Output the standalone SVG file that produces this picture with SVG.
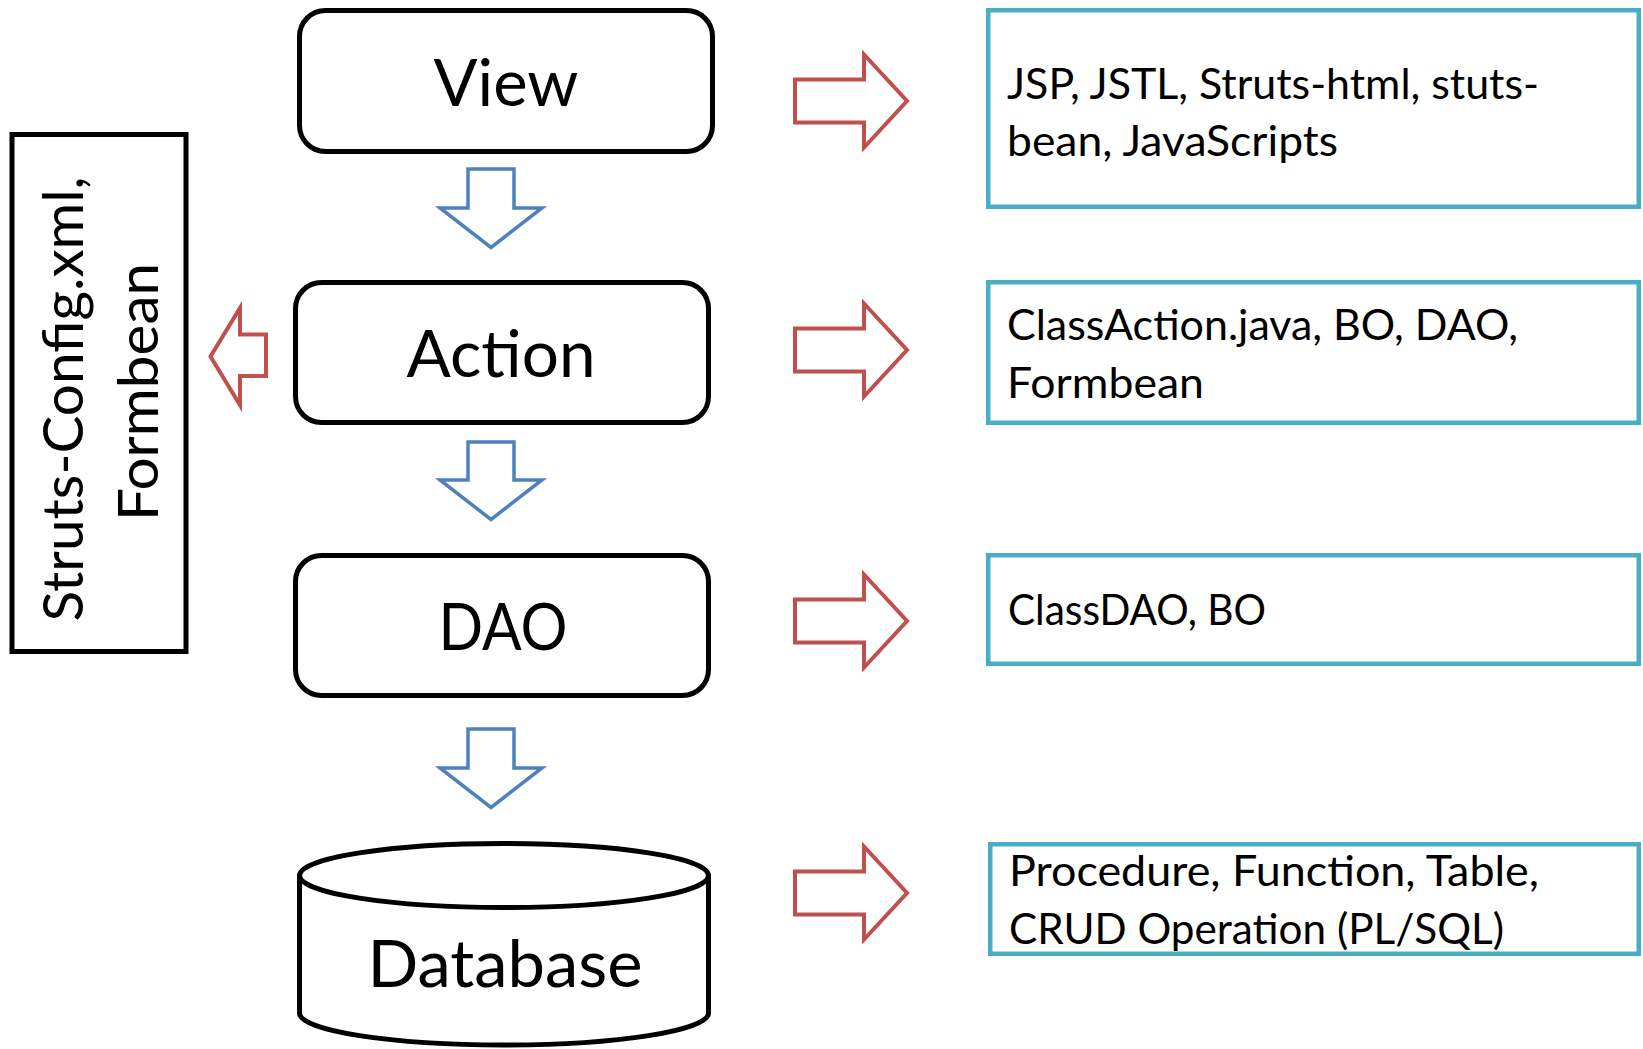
<svg xmlns="http://www.w3.org/2000/svg" width="1643" height="1049" viewBox="0 0 1643 1049">
<style>
.node{fill:#fff;stroke:#000;stroke-width:5}
.info{fill:#fff;stroke:#4BACC6;stroke-width:4.5}
.big{font-family:Lato,"Open Sans","Liberation Sans",sans-serif;font-size:65px;fill:#000;text-anchor:middle}
.side{font-family:Lato,"Open Sans","Liberation Sans",sans-serif;font-size:56px;fill:#000;text-anchor:middle}
.small{font-family:Lato,"Open Sans","Liberation Sans",sans-serif;font-size:42px;fill:#000}
.down{fill:#fff;stroke:#4F81BD;stroke-width:3.5;stroke-linejoin:miter}
.red{fill:#fff;stroke:#C0504D;stroke-width:4;stroke-linejoin:miter}
</style>
<rect width="1643" height="1049" fill="#fff"/>
<g id="view">
<rect class="node" x="299.5" y="10.5" width="413" height="141" rx="26"/>
<text class="big" x="506" y="106" textLength="145" lengthAdjust="spacingAndGlyphs">View</text>
</g>
<g id="action">
<rect class="node" x="295.5" y="282.5" width="413" height="140" rx="26"/>
<text class="big" x="501" y="377" textLength="189" lengthAdjust="spacingAndGlyphs">Action</text>
</g>
<g id="dao">
<rect class="node" x="295.5" y="555.5" width="413" height="140" rx="26"/>
<text class="big" x="503" y="650" textLength="129" lengthAdjust="spacingAndGlyphs">DAO</text>
</g>
<g id="database">
<path class="node" d="M299.5,875.5 V1013 A204.5,32 0 0 0 708.5,1013 V875.5"/>
<ellipse class="node" cx="504" cy="875.5" rx="204.5" ry="32"/>
<text class="big" x="505" y="987" textLength="275" lengthAdjust="spacingAndGlyphs">Database</text>
</g>
<g id="struts-config">
<rect class="node" x="12" y="134.5" width="174" height="517"/>
<text class="side" transform="translate(83,399) rotate(-90)" textLength="445" lengthAdjust="spacingAndGlyphs">Struts-Config.xml,</text>
<text class="side" transform="translate(158,392) rotate(-90)" textLength="258" lengthAdjust="spacingAndGlyphs">Formbean</text>
</g>
<g id="view-tech">
<rect class="info" x="988.25" y="10.25" width="650.5" height="196.5"/>
<text class="small" x="1007" y="99" textLength="532" lengthAdjust="spacingAndGlyphs">JSP, JSTL, Struts-html, stuts-</text>
<text class="small" x="1007" y="156" textLength="331" lengthAdjust="spacingAndGlyphs">bean, JavaScripts</text>
</g>
<g id="action-tech">
<rect class="info" x="988.25" y="282.25" width="650.5" height="140.5"/>
<text class="small" x="1007" y="340" textLength="511" lengthAdjust="spacingAndGlyphs">ClassAction.java, BO, DAO,</text>
<text class="small" x="1007" y="398" textLength="197" lengthAdjust="spacingAndGlyphs">Formbean</text>
</g>
<g id="dao-tech">
<rect class="info" x="988.25" y="555.25" width="650.5" height="108.5"/>
<text class="small" x="1008" y="625" textLength="258" lengthAdjust="spacingAndGlyphs">ClassDAO, BO</text>
</g>
<g id="db-tech">
<rect class="info" x="990.25" y="844.25" width="648.5" height="109.5"/>
<text class="small" x="1009" y="886" textLength="530" lengthAdjust="spacingAndGlyphs">Procedure, Function, Table,</text>
<text class="small" x="1009" y="944" textLength="495" lengthAdjust="spacingAndGlyphs">CRUD Operation (PL/SQL)</text>
</g>
<g id="connectors">
<path class="down" d="M468,169 H514 V208 H542 L491,247.5 L440,208 H468 Z"/>
<path class="down" d="M468,442 H514 V480 H542 L491,519.5 L440,480 H468 Z"/>
<path class="down" d="M468,729 H514 V768 H542 L491,807.5 L440,768 H468 Z"/>
<path class="red" d="M266,334.5 V376 H240 V405 L210.5,356.5 L240,308 V334.5 Z"/>
<path class="red" d="M795,79.5 H864 V54.5 L907,101 L864,147.5 V122.5 H795 Z"/>
<path class="red" d="M795,328.5 H864 V303.5 L907,350 L864,396.5 V371.5 H795 Z"/>
<path class="red" d="M795,599.5 H864 V574.5 L907,621 L864,667.5 V642.5 H795 Z"/>
<path class="red" d="M795,871.5 H864 V846.5 L907,893 L864,939.5 V914.5 H795 Z"/>
</g>
</svg>
